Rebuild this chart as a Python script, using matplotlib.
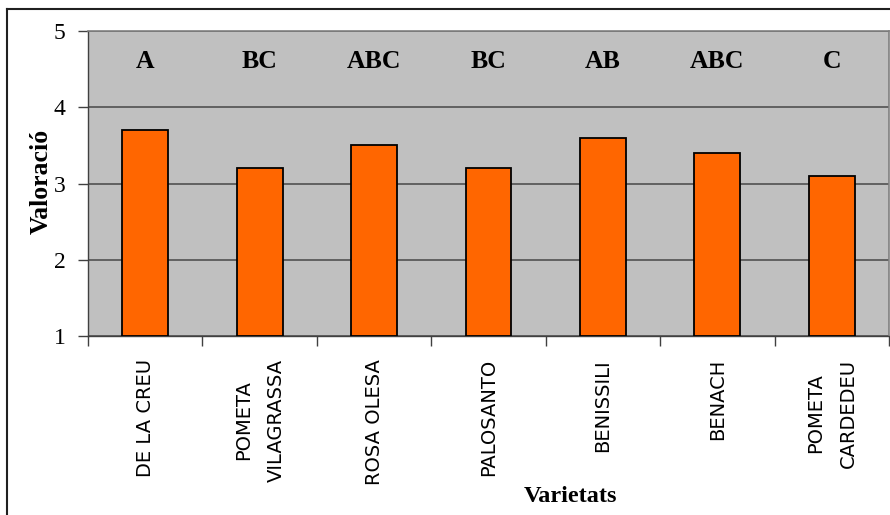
import matplotlib
matplotlib.use("Agg")
import matplotlib.pyplot as plt
from matplotlib.lines import Line2D

# Data
varietats = ["De la Creu", "Pometa\nVilagrassa", "Rosa Olesa", "Palosanto",
             "Benissili", "Benach", "Pometa\nCardedeu"]
valoracio = [3.7, 3.2, 3.5, 3.2, 3.6, 3.4, 3.1]
grups = ["A", "BC", "ABC", "BC", "AB", "ABC", "C"]
y_ticks = [1, 2, 3, 4, 5]

W, H = 890, 515
fig = plt.figure(figsize=(W / 100, H / 100), dpi=100)
fig.patch.set_facecolor("white")

ax = fig.add_axes([88 / W, 1 - 336 / H, (889 - 88) / W, (336 - 31) / H])
ax.set_facecolor("#C0C0C0")

x = list(range(len(varietats)))
ax.bar(x, [v - 1 for v in valoracio], bottom=1, width=0.40,
       color="#FF6600", edgecolor="black", linewidth=1.3, zorder=3)

ax.set_xlim(-0.5, len(varietats) - 0.5)
ax.set_ylim(1, 5)
ax.set_yticks(y_ticks)
ax.set_yticklabels([str(t) for t in y_ticks], fontfamily="Liberation Serif",
                   fontsize=17)
ax.yaxis.grid(True, color="#5A5A5A", linewidth=1.3, zorder=1)
ax.set_axisbelow(True)

# category boundaries as ticks, names placed between them
ax.set_xticks([i - 0.5 for i in range(len(varietats) + 1)])
ax.set_xticklabels([])
ax.tick_params(axis="x", direction="out", length=7, width=1, color="#404040")
ax.tick_params(axis="y", direction="out", length=7, width=1, color="#404040",
               pad=9)

for i, name in enumerate(varietats):
    ax.text(i, 0.7, name.upper(), rotation=90, ha="center", va="top",
            multialignment="center", fontfamily="DejaVu Sans", fontsize=14,
            linespacing=1.9, clip_on=False)

for i, g in enumerate(grups):
    ax.text(i, 4.6, g, ha="center", va="center", fontfamily="Liberation Serif",
            fontweight="bold", fontsize=18.5, zorder=4)

for side in ("top", "right"):
    ax.spines[side].set_color("#808080")
    ax.spines[side].set_linewidth(1.2)
for side in ("left", "bottom"):
    ax.spines[side].set_color("#404040")
    ax.spines[side].set_linewidth(1.0)

fig.text(41 / W, 1 - 181 / H, "Valoració", rotation=90, ha="center",
         va="center", fontfamily="Liberation Serif", fontweight="bold",
         fontsize=18.5)
fig.text(570 / W, 1 - 497 / H, "Varietats", ha="center", va="center",
         fontfamily="Liberation Serif", fontweight="bold", fontsize=17.5)

# outer chart frame
fig.add_artist(Line2D([7 / W, 7 / W], [0, 1 - 9 / H], transform=fig.transFigure,
                      color="#202020", linewidth=1.5))
fig.add_artist(Line2D([7 / W, 1], [1 - 9 / H, 1 - 9 / H], transform=fig.transFigure,
                      color="#202020", linewidth=1.5))

fig.savefig("out.png", dpi=100)
